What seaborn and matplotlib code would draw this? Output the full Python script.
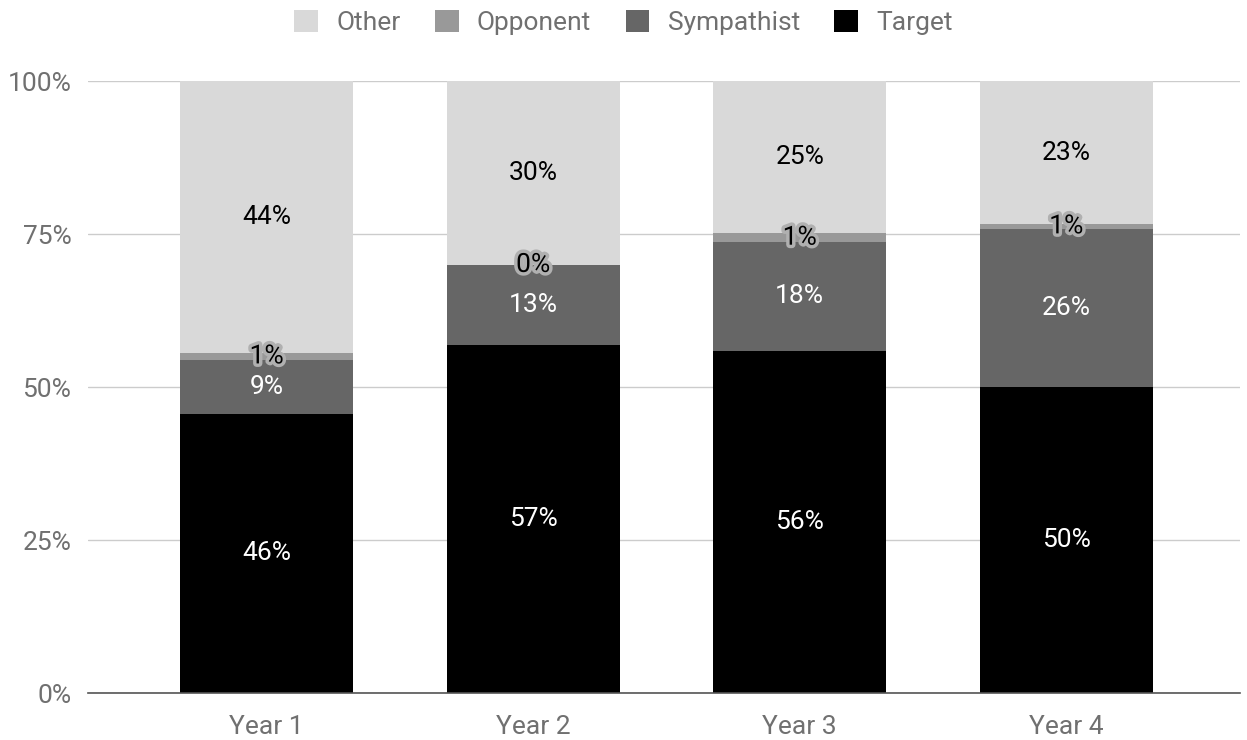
import matplotlib
matplotlib.use("Agg")
import matplotlib.pyplot as plt
import matplotlib.patheffects as pe
from matplotlib.patches import Patch
import seaborn as sns
import pandas as pd
import numpy as np

years = ["Year 1", "Year 2", "Year 3", "Year 4"]
target = [45.6, 56.9, 55.9, 50.0]
sympathist = [8.8, 13.0, 17.8, 25.9]
opponent = [1.2, 0.1, 1.4, 0.7]
other = [44.4, 30.0, 24.9, 23.4]

series_names = ["Target", "Sympathist", "Opponent", "Other"]
series_vals = [target, sympathist, opponent, other]
colors = {"Target": "#000000", "Sympathist": "#666666", "Opponent": "#999999", "Other": "#d9d9d9"}
text_colors = {"Target": "white", "Sympathist": "white", "Opponent": "black", "Other": "black"}

sns.set_theme(style="white")
plt.rcParams["font.family"] = ["Roboto", "DejaVu Sans"]

fig = plt.figure(figsize=(12.47, 7.40), dpi=100)
ax = fig.add_axes([0.0706, 0.0635, 0.9234, 0.827])

vals = np.array(series_vals, dtype=float)
cum = np.cumsum(vals, axis=0)
cum = cum / cum[-1] * 100

for i in range(len(series_names) - 1, -1, -1):
    df = pd.DataFrame({"year": years, "v": cum[i]})
    sns.barplot(data=df, x="year", y="v", color=colors[series_names[i]],
                width=0.65, ax=ax, saturation=1, zorder=2, linewidth=0,
                edgecolor="none")

for i, name in enumerate(series_names):
    for j, y in enumerate(years):
        lo = cum[i - 1][j] if i > 0 else 0
        hi = cum[i][j]
        mid = (lo + hi) / 2
        t = ax.text(j, mid, f"{round(series_vals[i][j])}%", ha="center", va="center",
                    fontsize=19, color=text_colors[name], zorder=5)
        if name == "Opponent":
            t.set_path_effects([pe.withStroke(linewidth=5, foreground="#b0b0b0")])

ax.set_ylim(0, 100)
ax.set_xlim(-0.67, 3.65)
ax.set_yticks([0, 25, 50, 75, 100])
ax.set_yticklabels(["0%", "25%", "50%", "75%", "100%"])
ax.yaxis.grid(True, color="#cccccc", linewidth=1, zorder=0)
ax.set_axisbelow(True)
ax.set_xlabel("")
ax.set_ylabel("")
for s in ["top", "right", "left"]:
    ax.spines[s].set_visible(False)
ax.spines["bottom"].set_color("#555555")
ax.spines["bottom"].set_linewidth(1.2)
ax.spines["bottom"].set_zorder(6)
ax.tick_params(axis="both", length=0, labelsize=19, labelcolor="#707070")
ax.tick_params(axis="y", pad=12)
ax.tick_params(axis="x", pad=16)

handles = [Patch(facecolor=colors[n], edgecolor="none") for n in ["Other", "Opponent", "Sympathist", "Target"]]
fig.legend(handles, ["Other", "Opponent", "Sympathist", "Target"], loc="center",
           bbox_to_anchor=(0.5, 0.97), ncol=4, frameon=False, fontsize=19,
           labelcolor="#707070", handlelength=0.9, handleheight=0.9,
           handletextpad=0.7, columnspacing=1.3)

fig.savefig("out.png", dpi=100)
